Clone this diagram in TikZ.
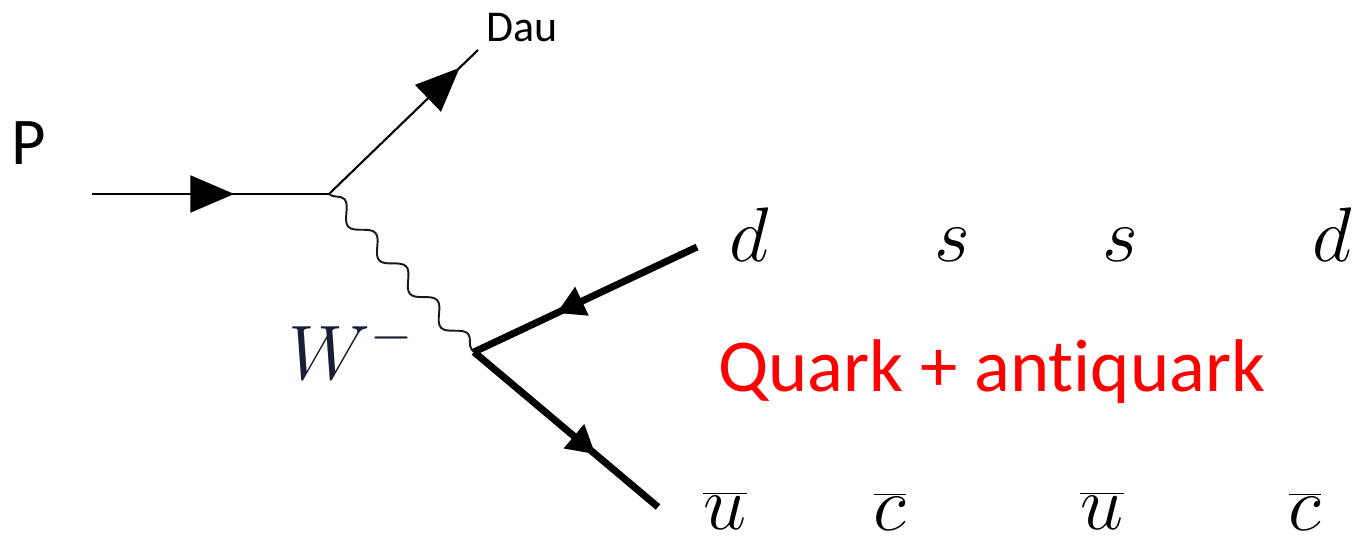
\RequirePackage{fix-cm}
\documentclass[tikz,border=0pt]{standalone}
\usepackage{fontspec}
\setmainfont{Carlito}[Ligatures=NoCommon]
\usetikzlibrary{arrows.meta,decorations.markings,decorations.pathmorphing}
\definecolor{wcol}{RGB}{25,30,55}
\definecolor{qred}{RGB}{255,0,0}
\begin{document}
\begin{tikzpicture}[x=0.02cm,y=-0.02cm,
  lbl/.style={inner sep=0pt,anchor=base},
  thinarrow/.style={decoration={markings,mark=at position #1 with {\arrow{Triangle[length=25pt,width=21pt]}}},postaction={decorate}},
  thickarrow/.style={decoration={markings,mark=at position #1 with {\arrow{Triangle[length=16pt,width=17pt]}}},postaction={decorate}},
  fermion/.style={line width=1.5pt},
  thickfermion/.style={line width=4pt},
  boson/.style={line width=1.1pt,color=black!90,decorate,decoration={snake,segment length=26pt,amplitude=4.5pt}},
  quark/.style={lbl,font=\fontsize{44}{48}\selectfont},
]
\useasboundingbox (0,0) rectangle (1358,543);
% vertices and ends
\coordinate (in) at (92,194);
\coordinate (v1) at (329,194);
\coordinate (dauend) at (478,50);
\coordinate (v2) at (474,352);
\coordinate (dend) at (697,247);
\coordinate (uend) at (658,507);
% lines
\draw[fermion,thinarrow=0.60] (in) -- (v1);
\draw[line width=1.2pt,thinarrow=0.88] (v1) -- (dauend);
\draw[boson] (v1) -- (v2);
\draw[thickfermion,line cap=butt,thickarrow=0.63] (dend) -- (v2);
\draw[thickfermion,thickarrow=0.66] (v2) -- (uend);
% labels
\node[lbl,anchor=base west,font=\fontsize{38}{44}\selectfont] (P) at (11,165) {P};
\node[lbl,anchor=base west,font=\fontsize{25}{30}\selectfont] (dau) at (486,42) {Dau};
\node[lbl,anchor=base west,text=wcol] (W) at (288,380) {\fontsize{44}{48}\selectfont$W^-$};
\node[lbl,anchor=base west,text=qred,font=\fontsize{42.5}{48}\selectfont] (qa) at (718,392) {Quark + antiquark};
\node[quark] (d1) at (749,262) {$d$};
\node[quark] (s1) at (952,262) {$s$};
\node[quark] (s2) at (1120,262) {$s$};
\node[quark] (d2) at (1332,262) {$d$};
\node[quark] (ub1) at (725,529) {$\overline{u}$};
\node[quark] (cb1) at (890,530) {$\overline{c}$};
\node[quark] (ub2) at (1102,529) {$\overline{u}$};
\node[quark] (cb2) at (1305,530) {$\overline{c}$};
\end{tikzpicture}
\end{document}
